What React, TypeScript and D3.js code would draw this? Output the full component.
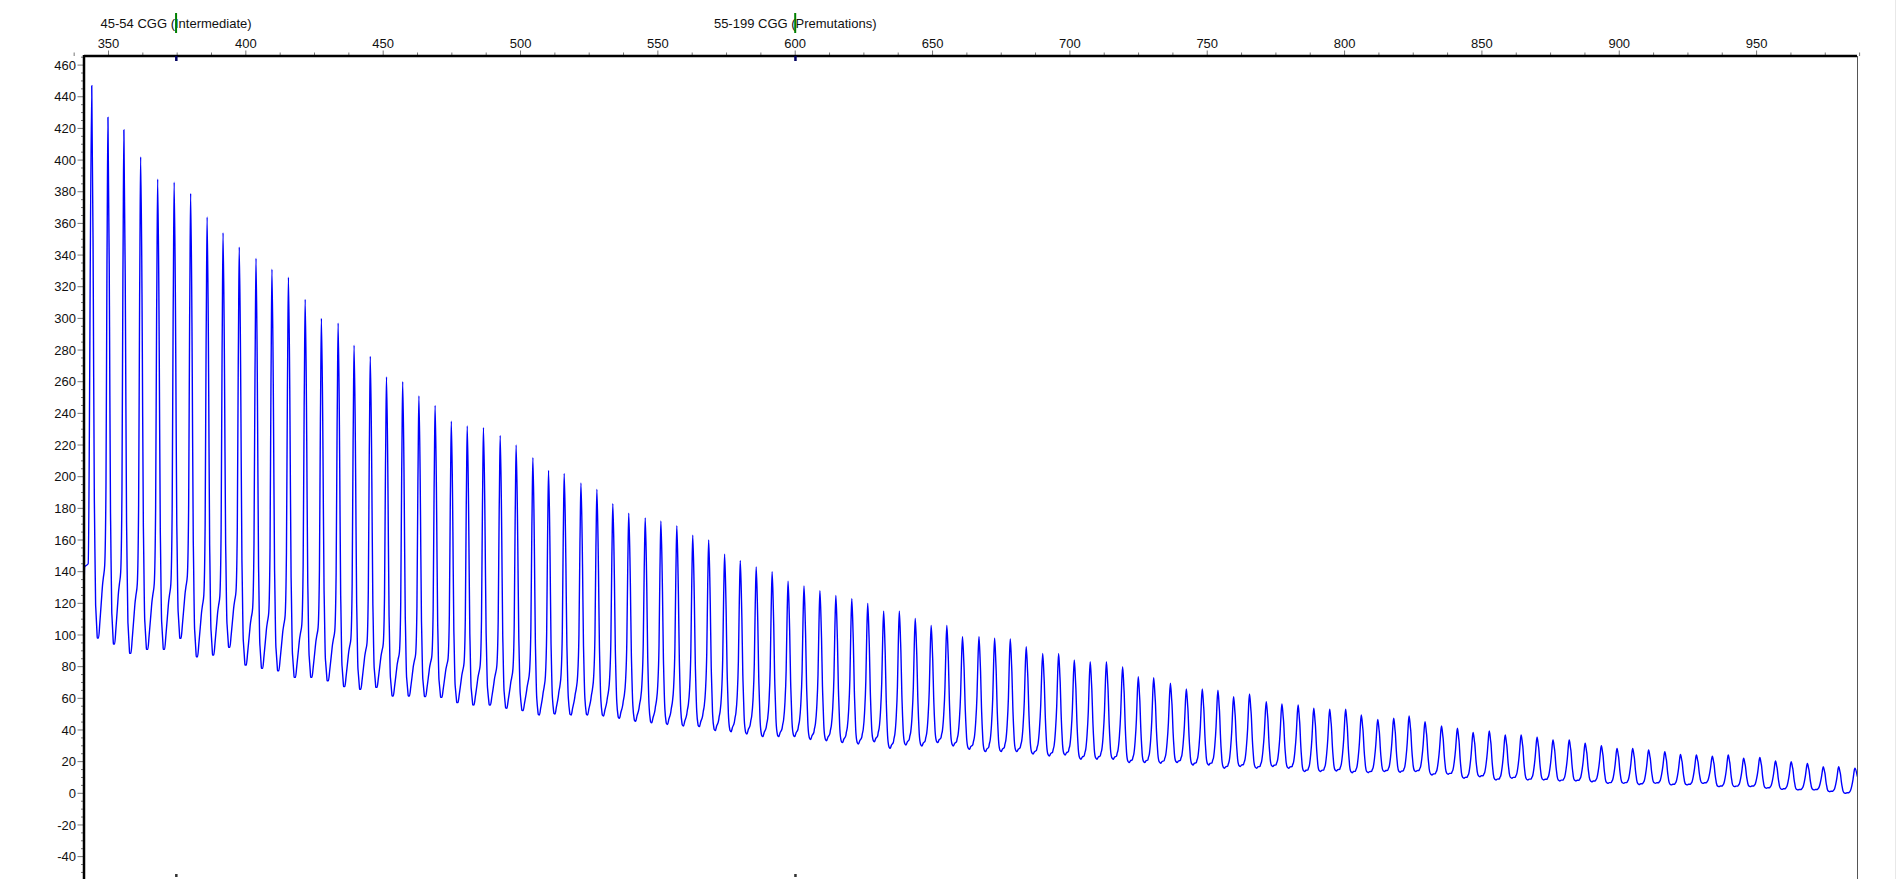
import React from "react";
import * as d3 from "d3";

// ---- data ----
const peakPos = [
  343.9, 349.8, 355.6, 361.7, 367.9, 373.9, 379.9, 385.9, 391.7, 397.6, 403.7, 409.5, 415.5, 421.6, 427.5, 433.6, 439.4,
  445.3, 451.2, 457.1, 463.0, 468.9, 474.8, 480.6,
  486.5, 492.6, 498.4, 504.5, 510.2, 515.9, 522.0, 527.8, 533.6, 539.4, 545.4, 551.1,
  556.9, 562.7, 568.5, 574.3, 580.0, 585.8, 591.6, 597.4, 603.2, 609.0, 614.8, 620.6, 626.4,
  632.2, 637.9, 643.7, 649.5, 655.2, 660.9, 666.9, 672.6, 678.3, 684.1, 690.1, 695.9, 701.6, 707.4, 713.3, 719.2, 724.9, 730.5, 736.6, 742.4, 748.2, 753.9, 759.6, 765.4, 771.5,
  777.2, 783.1, 788.8, 794.6, 800.4, 806.1, 812.1, 817.9, 823.5, 829.3, 835.3, 841.1, 846.8, 852.7, 858.5, 864.3, 870.1, 875.9, 881.8, 887.6,
  893.5, 899.2, 904.9, 910.7, 916.6, 922.3, 928.1, 933.9, 939.7, 945.3, 951.2, 956.9, 962.6, 968.5, 974.3, 979.9, 985.8,
];

const peakHeight = [
  447, 427, 419, 402, 388, 386, 379, 364, 354, 345, 338, 331, 326, 312, 300, 297, 283,
  276, 263, 260, 251, 245, 235, 232,
  231, 226, 220, 212, 204, 202, 196, 192, 183, 177, 174, 172,
  169, 163, 160, 151, 147, 143, 140, 134, 131, 128, 125, 123, 120,
  115, 115, 110.5, 106, 106, 99, 99, 98, 97.5, 92.6, 88.4, 88.4, 84.2, 83.1, 83.1, 80, 73.7, 73, 69.5, 65.9, 65.9, 65.2, 61, 62.7, 57.9,
  56.4, 55.8, 53.7, 53.1, 53.1, 49.5, 46.7, 47.4, 48.8, 45.2, 42.5, 41.1, 38.5, 39.4, 36.8, 36.8, 35.4, 33.7, 33.7, 31.6,
  30.1, 28.4, 28.4, 27.4, 26.3, 24.6, 24.2, 23.5, 24.2, 22.1, 22.7, 20.4, 20, 18.9, 16.8, 16.8, 15.8,
];

const troughValue = [
  98, 94.3, 88.4, 90.9, 90.9, 97.9, 86.3, 87.4, 92.2, 81, 78.9, 77.4, 73.2, 73.2, 71.1, 67.4, 65.7, 66.9, 61.5, 61.5,
  61.1, 60.6, 57.3, 55.8, 55.8, 53.7, 52.2, 49.5, 50.1, 49.5, 49.5, 48.8, 47.4,
  45.5, 44.5, 43.5,
  42.5, 42.1, 39.6, 38.9, 37.5, 35.8, 35.8, 35.8, 34, 33.2, 32, 31.1, 32.6, 28.4, 30.5, 29.9, 32, 29.9, 27.8, 26.3,
  26.3, 26.3, 24.8, 23.6, 24.2, 21.5, 21.5, 21.5, 19.4, 19.4, 19, 19.4, 17.9, 17.9, 15.8, 16.9, 15.8, 16.9,
  15.8, 13.7, 13.7, 14.1, 13, 13, 13.7, 13.3, 13.7, 11.6, 12, 9.5, 10.5, 8.4, 9.5, 8.4, 8.4, 7.8, 7.8, 7.3,
  6.3, 6.3, 5.6, 6.3, 5.3, 5.3, 6.3, 4.2, 4.2, 4.2, 3.2, 2.5, 2.1, 2.1, 1.0, 0,
];

const leadX = [341.1, 341.3, 342.6];
const leadY = [125, 143, 145];
const tailX = 986.7;
const tailY = 10.5;

const xTickLabels = [350, 400, 450, 500, 550, 600, 650, 700, 750, 800, 850, 900, 950];
const yTickLabels = [-40, -20, 0, 20, 40, 60, 80, 100, 120, 140, 160, 180, 200, 220, 240, 260, 280, 300, 320, 340, 360, 380, 400, 420, 440, 460];

const regionStart = [374.6, 600];
const regionLabel = ["45-54 CGG (Intermediate)", "55-199 CGG (Premutations)"];

// ---- layout ----
const W = 1902;
const H = 879;
const L = 84;
const R = 1857;
const T = 56;
const FONT = "'Liberation Sans', Arial, sans-serif";

// peak glyph templates: [fraction of spacing, fraction of amplitude]
// tall = sharp spike on a broad base; short = rounded bump
const DOWN_TALL: [number, number][] = [[0.08, 0.72], [0.16, 0.25], [0.24, 0.06], [0.34, 0]];
const UP_TALL: [number, number][] = [[0.5, 0.03], [0.66, 0.1], [0.8, 0.14], [0.88, 0.3], [0.94, 0.72]];
const DOWN_SHORT: [number, number][] = [[0.1, 0.75], [0.17, 0.4], [0.25, 0.12], [0.33, 0.02], [0.42, 0]];
const UP_SHORT: [number, number][] = [[0.62, 0.02], [0.72, 0.1], [0.8, 0.28], [0.88, 0.55], [0.95, 0.88]];

function blend(a: [number, number][], b: [number, number][], w: number): [number, number][] {
  // resample both templates on a common set of fractions
  const fr = Array.from(new Set([...a.map((d) => d[0]), ...b.map((d) => d[0])])).sort((p, q) => p - q);
  const ia = d3.scaleLinear().domain(a.map((d) => d[0])).range(a.map((d) => d[1])).clamp(true);
  const ib = d3.scaleLinear().domain(b.map((d) => d[0])).range(b.map((d) => d[1])).clamp(true);
  return fr.map((f) => [f, w * ia(f) + (1 - w) * ib(f)] as [number, number]);
}

export default function App() {
  const x = d3.scaleLinear().domain([350, 950]).range([108.5, 1756.6]);
  const y = d3.scaleLinear().domain([0, 460]).range([793.3, 65.1]);
  const tallness = d3.scaleLinear().domain([25, 180]).range([0, 1]).clamp(true);

  const pts: [number, number][] = [];
  leadX.forEach((v, i) => pts.push([v, leadY[i]]));
  const n = peakPos.length;
  for (let i = 0; i < n; i++) {
    const p = peakPos[i];
    pts.push([p, peakHeight[i]]);
    if (i < n - 1) {
      const g = peakPos[i + 1] - p;
      const t = troughValue[i];
      const a1 = peakHeight[i] - t;
      const a2 = peakHeight[i + 1] - t;
      const w = tallness((a1 + a2) / 2);
      const down = blend([[0, 1], ...DOWN_TALL], [[0, 1], ...DOWN_SHORT], w).filter((d) => d[0] > 0);
      const up = blend([...UP_TALL, [1, 1]], [...UP_SHORT, [1, 1]], w).filter((d) => d[0] < 1);
      down.forEach(([f, v]) => pts.push([p + f * g, t + v * a1]));
      up.forEach(([f, v]) => pts.push([p + f * g, t + v * a2]));
    }
  }
  pts.push([tailX, tailY]);

  const line = d3
    .line<[number, number]>()
    .x((d) => x(d[0]))
    .y((d) => y(d[1]))
    .curve(d3.curveMonotoneX);

  const minorY = d3.range(-60, 466, 5).filter((v) => v % 20 !== 0);
  const minorX = d3.range(337.5, 990, 12.5).filter((v) => v % 50 !== 0);

  return (
    <div style={{ position: "fixed", left: 0, top: 0, width: W, height: H, overflow: "hidden", background: "#fff" }}>
      <style>{"body{margin:0;overflow:hidden;}"}</style>
      <svg width={W} height={H} style={{ display: "block" }}>
        <rect x={0} y={0} width={W} height={H} fill="#fff" />
        <defs>
          <clipPath id="plotClip">
            <rect x={L} y={T} width={R - L} height={H - T} />
          </clipPath>
        </defs>

        {/* trace */}
        <path d={line(pts) || ""} fill="none" stroke="#0000ff" strokeWidth={1.4} clipPath="url(#plotClip)" />

        {/* top axis */}
        {minorX.map((v) => (
          <line key={"mx" + v} x1={x(v)} x2={x(v)} y1={52.5} y2={56} stroke="#777" strokeWidth={1} />
        ))}
        {xTickLabels.map((v) => (
          <g key={"xt" + v}>
            <line x1={x(v)} x2={x(v)} y1={50.5} y2={56} stroke="#777" strokeWidth={1} />
            <text x={x(v)} y={47.5} textAnchor="middle" fontFamily={FONT} fontSize={13} fill="#111">
              {v}
            </text>
          </g>
        ))}
        <line x1={L} x2={R} y1={56} y2={56} stroke="#000" strokeWidth={2.5} />

        {/* left axis */}
        {minorY.map((v) => (
          <line key={"my" + v} x1={81} x2={L} y1={y(v)} y2={y(v)} stroke="#777" strokeWidth={1} />
        ))}
        {yTickLabels.map((v) => (
          <g key={"yt" + v}>
            <line x1={77.5} x2={L} y1={y(v)} y2={y(v)} stroke="#777" strokeWidth={1} />
            <text x={76} y={y(v)} dy="0.35em" textAnchor="end" fontFamily={FONT} fontSize={13} fill="#111">
              {v}
            </text>
          </g>
        ))}
        <line x1={L} x2={L} y1={T - 1} y2={H} stroke="#000" strokeWidth={2.5} />

        {/* right border */}
        <line x1={R + 0.5} x2={R + 0.5} y1={T} y2={H} stroke="#555" strokeWidth={1} />
        <line x1={1895.5} x2={1895.5} y1={0} y2={H} stroke="#e8e8e8" strokeWidth={1} />

        {/* region markers */}
        {regionStart.map((v, i) => (
          <g key={"rg" + i}>
            <text x={x(v)} y={27.5} textAnchor="middle" fontFamily={FONT} fontSize={13} fill="#111">
              {regionLabel[i]}
            </text>
            <rect x={x(v) - 1} y={13} width={2} height={20} fill="#008000" />
            <rect x={x(v) - 1} y={56} width={2.5} height={5} fill="#000060" />
            <rect x={x(v) - 1} y={874} width={2.5} height={3} fill="#333" />
          </g>
        ))}
      </svg>
    </div>
  );
}
